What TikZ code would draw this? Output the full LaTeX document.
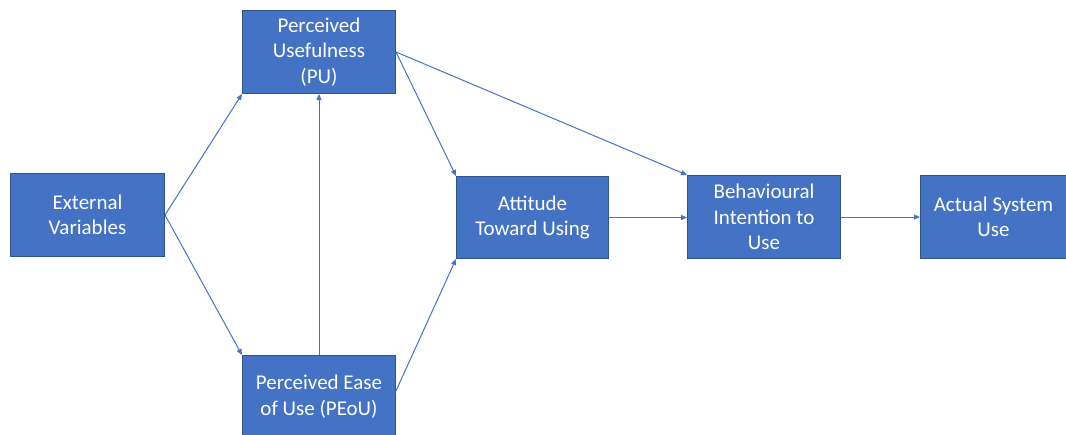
\documentclass[tikz,border=0pt]{standalone}
\usepackage{fontspec}
\setmainfont{Carlito}
\usetikzlibrary{arrows.meta}
\definecolor{boxfill}{HTML}{4472C4}
\definecolor{boxline}{HTML}{2F528F}
\definecolor{arrowc}{HTML}{4472C4}
\begin{document}
\begin{tikzpicture}[x=1pt,y=-1pt,
  box/.style={draw=boxline,line width=1pt,fill=boxfill,text=white,align=center,
    font=\fontsize{21}{25.5}\selectfont,inner sep=0pt,anchor=north west},
  conn/.style={draw=arrowc,line width=1pt,-{Triangle[length=6pt,width=5pt]}}]
\useasboundingbox (0,0) rectangle (1066,434);
\node[box,minimum width=154pt,minimum height=83pt] (ext) at (10,173) {External\\Variables};
\node[box,minimum width=153pt,minimum height=83pt] (pu) at (242,10) {Perceived\\Usefulness\\(PU)};
\node[box,minimum width=153pt,minimum height=82pt] (peou) at (242,355) {Perceived Ease\\of Use (PEoU)};
\node[box,minimum width=152pt,minimum height=82pt] (att) at (456,176) {Attitude\\Toward Using};
\node[box,minimum width=153pt,minimum height=83pt] (bi) at (687,175) {Behavioural\\Intention to\\Use};
\node[box,minimum width=146pt,minimum height=83pt] (asu) at (920,175) {Actual System\\Use};
\coordinate (peouR) at (395,393);
\draw[conn] (ext.east) -- (pu.south west);
\draw[conn] (ext.east) -- (peou.north west);
\draw[conn] (peou.north) -- (pu.south);
\draw[conn] (pu.east) -- (att.north west);
\draw[conn] (pu.east) -- (bi.north west);
\draw[conn] (peouR) -- (att.south west);
\draw[conn] (att.east) -- (att.east -| bi.west);
\draw[conn] (bi.east) -- (bi.east -| asu.west);
\end{tikzpicture}
\end{document}
